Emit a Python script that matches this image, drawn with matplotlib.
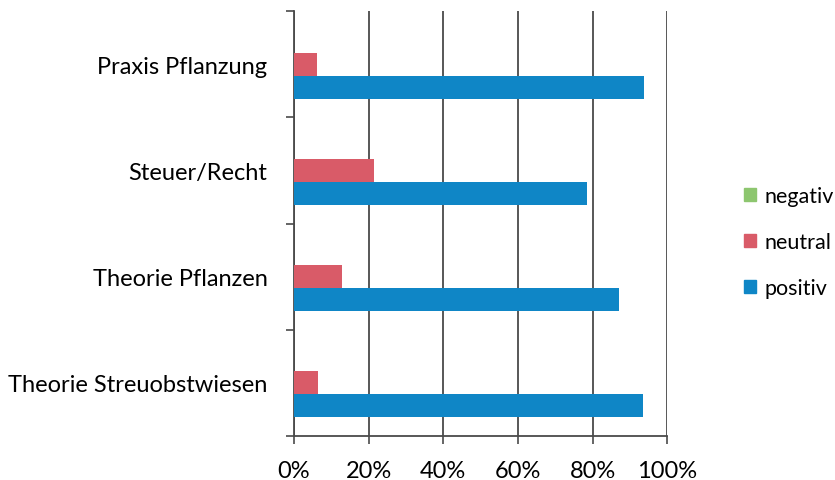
import numpy as np
import matplotlib.pyplot as plt
from matplotlib.patches import Patch

# values (percent), listed top to bottom
categories = ["Praxis Pflanzung", "Steuer/Recht", "Theorie Pflanzen", "Theorie Streuobstwiesen"]
negativ = [0.0, 0.0, 0.0, 0.0]
neutral = [6.1, 21.4, 13.0, 6.5]
positiv = [93.9, 78.6, 87.0, 93.5]
xticks = [0, 20, 40, 60, 80, 100]

plt.rcParams['font.family'] = ['Lato', 'DejaVu Sans']

fig = plt.figure(figsize=(8.35, 4.81), dpi=100)
ax = fig.add_axes([0.352, 0.0915, 0.447, 0.8835])

n = len(categories)
centers = np.arange(n)[::-1].astype(float)  # top category gets highest y
h = 0.217
colors = {"negativ": "#8DC66F", "neutral": "#D95B68", "positiv": "#0F86C6"}

ax.barh(centers + h, negativ, height=h, color=colors["negativ"], zorder=3)
ax.barh(centers, neutral, height=h, color=colors["neutral"], zorder=3)
ax.barh(centers - h, positiv, height=h, color=colors["positiv"], zorder=3)

ax.set_xlim(0, 100)
ax.set_ylim(-0.5, n - 0.5)
ax.set_xticks(xticks)
ax.set_xticklabels([f"{v}%" for v in xticks], fontsize=17)
ax.grid(axis="x", color="#4a4a4a", linewidth=1.3, zorder=0)
ax.set_axisbelow(True)

ax.set_yticks(centers)
ax.set_yticklabels(categories, fontsize=17)
ax.tick_params(axis="y", which="major", length=0, pad=19)
ax.set_yticks(np.arange(n + 1) - 0.5, minor=True)
ax.tick_params(axis="y", which="minor", length=6, width=1.2, color="#4a4a4a")
ax.tick_params(axis="x", length=6, width=1.2, color="#4a4a4a", pad=11)

for s in ["top", "right"]:
    ax.spines[s].set_visible(False)
for s in ["left", "bottom"]:
    ax.spines[s].set_color("#4a4a4a")
    ax.spines[s].set_linewidth(1.3)

handles = [Patch(color=colors[k], label=k) for k in ["negativ", "neutral", "positiv"]]
fig.legend(handles=handles, loc="center left", bbox_to_anchor=(0.878, 0.495),
           frameon=False, fontsize=15.5, handlelength=0.55, handleheight=0.55,
           handletextpad=0.4, labelspacing=1.2, borderpad=0)

fig.savefig("out.png", dpi=100)
